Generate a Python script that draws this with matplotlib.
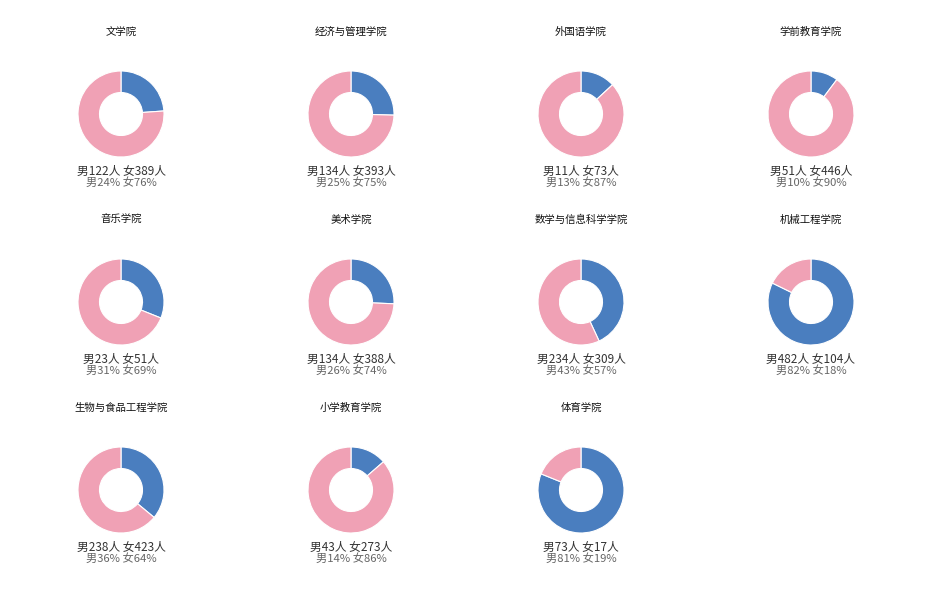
import matplotlib
matplotlib.use('Agg')
import matplotlib.pyplot as plt

plt.rcParams['font.family'] = ['Noto Sans CJK SC', 'DejaVu Sans']

colleges = ['文学院', '经济与管理学院', '外国语学院', '学前教育学院',
            '音乐学院', '美术学院', '数学与信息科学学院', '机械工程学院',
            '生物与食品工程学院', '小学教育学院', '体育学院']
male = [122, 134, 11, 51, 23, 134, 234, 482, 238, 43, 73]
female = [389, 393, 73, 446, 51, 388, 309, 104, 423, 273, 17]
male_pct = [24, 25, 13, 10, 31, 26, 43, 82, 36, 14, 81]
female_pct = [76, 75, 87, 90, 69, 74, 57, 18, 64, 86, 19]

W, H = 927, 592
fig = plt.figure(figsize=(W / 100, H / 100), dpi=100)

r = 43  # pie radius in px
for i, name in enumerate(colleges):
    col, row = i % 4, i // 4
    cx = 121 + 230 * col
    cy = 114 + 188 * row
    ax = fig.add_axes([(cx - r) / W, 1 - (cy + r) / H, 2 * r / W, 2 * r / H])
    ax.pie([male[i], female[i]], colors=['#4a7ebf', '#f0a1b5'],
           startangle=90, counterclock=False, radius=1,
           wedgeprops=dict(width=0.5, edgecolor='white', linewidth=0.8))
    ax.set_xlim(-1, 1)
    ax.set_ylim(-1, 1)
    ax.axis('off')
    fig.text(cx / W, 1 - (cy - 82) / H, name, ha='center', va='center',
             fontsize=7.5, color='#111111')
    fig.text(cx / W, 1 - (cy + 57) / H, '男%d人 女%d人' % (male[i], female[i]),
             ha='center', va='center', fontsize=8.5, color='#333333')
    fig.text(cx / W, 1 - (cy + 69) / H, '男%d%% 女%d%%' % (male_pct[i], female_pct[i]),
             ha='center', va='center', fontsize=8.1, color='#666666')

fig.savefig('out.png', dpi=100, facecolor='white')
